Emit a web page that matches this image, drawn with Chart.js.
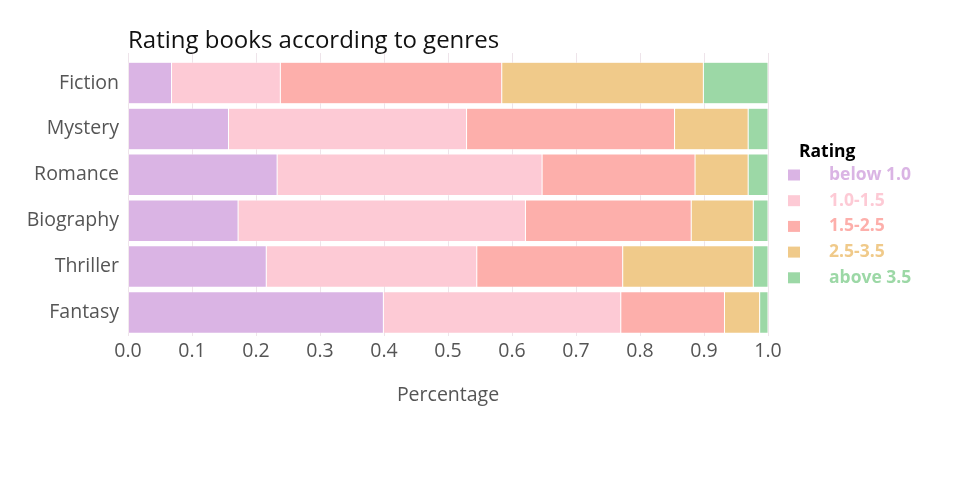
<!DOCTYPE html>
<html><head><meta charset="utf-8">
<script src="https://cdn.jsdelivr.net/npm/chart.js@4"></script>
<style>html,body{margin:0;padding:0;background:#fff}#wrap{width:960px;height:500px}</style>
</head><body><div id="wrap"><canvas id="c" width="960" height="500"></canvas></div>
<script>
const genres = ['Fiction', 'Mystery', 'Romance', 'Biography', 'Thriller', 'Fantasy'];
const ratingBands = ['below 1.0', '1.0-1.5', '1.5-2.5', '2.5-3.5', 'above 3.5'];
const below10 = [0.068, 0.157, 0.233, 0.172, 0.216, 0.399];
const r10to15 = [0.170, 0.372, 0.414, 0.449, 0.329, 0.371];
const r15to25 = [0.346, 0.325, 0.239, 0.259, 0.228, 0.162];
const r25to35 = [0.315, 0.115, 0.083, 0.097, 0.204, 0.055];
const above35 = [0.101, 0.031, 0.031, 0.023, 0.023, 0.013];
const xTicks = [0, 0.1, 0.2, 0.3, 0.4, 0.5, 0.6, 0.7, 0.8, 0.9, 1.0];

const bandColors = ['#DAB4E4', '#FDCAD5', '#FDAFAB', '#F0CA8A', '#9CD8A6'];
const seriesValues = [below10, r10to15, r15to25, r25to35, above35];
const FONT = "'Open Sans', sans-serif";
const TXT = '#555555';
const Y_MIN = -0.654, Y_MAX = 5.512;

const datasets = ratingBands.map((name, k) => ({
  label: name,
  data: seriesValues[k].map((v, i) => ({ x: v, y: i })),
  backgroundColor: bandColors[k],
  borderColor: 'rgba(255,255,255,0.9)',
  borderWidth: 0.5,
  borderSkipped: false,
  barPercentage: 0.905,
  categoryPercentage: 1.0
}));

const titlePlugin = {
  id: 'titlePlugin',
  afterDraw(chart) {
    const ctx = chart.ctx;
    ctx.save();
    ctx.fillStyle = '#111';
    ctx.font = "24px " + FONT;
    ctx.textAlign = 'left';
    ctx.textBaseline = 'alphabetic';
    ctx.fillText('Rating books according to genres', chart.chartArea.left, 48);
    ctx.restore();
  }
};

const legendPlugin = {
  id: 'legendPlugin',
  afterDraw(chart) {
    const ctx = chart.ctx;
    const x0 = chart.chartArea.right + 20;
    ctx.save();
    ctx.textBaseline = 'middle';
    ctx.textAlign = 'left';
    ctx.fillStyle = '#000';
    ctx.font = "bold 17.5px " + FONT;
    ctx.fillText('Rating', x0 + 11, 152);
    chart.data.datasets.forEach((ds, i) => {
      const cy = 175 + i * 25.7;
      ctx.fillStyle = ds.backgroundColor;
      ctx.fillRect(x0, cy - 5.5, 12, 11);
      ctx.fillText(ds.label, x0 + 41, cy);
    });
    ctx.restore();
  }
};

new Chart(document.getElementById('c'), {
  type: 'bar',
  data: { datasets },
  plugins: [titlePlugin, legendPlugin],
  options: {
    indexAxis: 'y',
    responsive: false,
    animation: false,
    devicePixelRatio: 1,
    layout: { padding: { left: 0, right: 192, top: 53, bottom: 0 } },
    plugins: { legend: { display: false }, title: { display: false }, tooltip: { enabled: false } },
    scales: {
      x: {
        type: 'linear', min: 0, max: 1, stacked: true, position: 'bottom', offset: false,
        grid: { color: 'rgb(238,228,234)', drawTicks: false, lineWidth: 1, offset: false },
        border: { display: false },
        afterBuildTicks: s => { s.ticks = xTicks.map(v => ({ value: v })); s.min = 0; s.max = 1; },
        ticks: { padding: 4, color: TXT, font: { family: FONT, size: 19.5 }, callback: v => Number(v).toFixed(1) },
        title: { display: true, text: 'Percentage', color: TXT, font: { family: FONT, size: 19.5 }, padding: { top: 0, bottom: 93 } },
        afterFit: s => { s.height = 164; s.paddingLeft = 0; s.paddingRight = 0; }
      },
      y: {
        type: 'linear', reverse: true, min: Y_MIN, max: Y_MAX, stacked: true, bounds: 'data', offset: false,
        grid: { display: false, drawTicks: false, offset: false },
        border: { display: false },
        afterDataLimits: s => { s.min = Y_MIN; s.max = Y_MAX; },
        afterBuildTicks: s => { s.ticks = genres.map((g, i) => ({ value: i })); s.min = Y_MIN; s.max = Y_MAX; },
        ticks: { padding: 9, color: TXT, font: { family: FONT, size: 19.5 }, callback: v => genres[v] ?? '' },
        afterFit: s => { s.width = 128; s.paddingTop = 0; s.paddingBottom = 0; }
      }
    }
  }
});
</script>
</body></html>
